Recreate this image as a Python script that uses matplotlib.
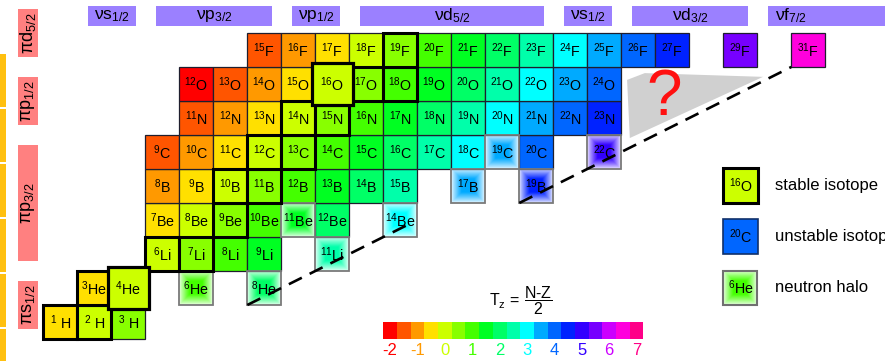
import numpy as np
import matplotlib
matplotlib.use("Agg")
import matplotlib.pyplot as plt
from matplotlib.patches import Rectangle, Polygon
from matplotlib.colors import to_rgb

plt.rcParams['font.family'] = ['Liberation Sans', 'DejaVu Sans']
plt.rcParams['mathtext.fontset'] = 'custom'
plt.rcParams['mathtext.rm'] = 'Liberation Sans'
plt.rcParams['mathtext.it'] = 'Liberation Sans:italic'
plt.rcParams['mathtext.bf'] = 'Liberation Sans:bold'

# isospin projection T_z = (N - Z)/2 and its colour scale
tz_levels = [-2, -1.5, -1, -0.5, 0, 0.5, 1, 1.5, 2, 2.5, 3, 3.5, 4, 4.5, 5, 5.5, 6, 6.5, 7]
tz_colors = ['#ff0000', '#ff5500', '#ff9900', '#ffe000', '#ccff00', '#88ff00',
             '#44ff00', '#00ff22', '#00ff66', '#00ffaa', '#00ffff', '#00aaff',
             '#0066ff', '#0022ff', '#3300ff', '#7700ff', '#cc00ff', '#ff00dd', '#ff0088']

# light nuclei: element, proton number and known mass numbers
elements = ["H", "He", "Li", "Be", "B", "C", "N", "O", "F"]
proton_numbers = [1, 2, 3, 4, 5, 6, 7, 8, 9]
mass_numbers = [
    [1, 2, 3],
    [3, 4, 6, 8],
    [6, 7, 8, 9, 11],
    [7, 8, 9, 10, 11, 12, 14],
    [8, 9, 10, 11, 12, 13, 14, 15, 17, 19],
    [9, 10, 11, 12, 13, 14, 15, 16, 17, 18, 19, 20, 22],
    [11, 12, 13, 14, 15, 16, 17, 18, 19, 20, 21, 22, 23],
    [12, 13, 14, 15, 16, 17, 18, 19, 20, 21, 22, 23, 24],
    [15, 16, 17, 18, 19, 20, 21, 22, 23, 24, 25, 26, 27, 29, 31],
]
stable = ["1H", "2H", "3He", "4He", "6Li", "7Li", "9Be", "10B", "11B", "12C",
          "13C", "14N", "15N", "16O", "17O", "18O", "19F"]
halo = ["6He", "8He", "11Li", "11Be", "14Be", "17B", "19B", "19C", "22C"]
doubly_magic = ["4He", "16O"]

# single-particle orbitals (filled neutron / proton number ranges)
neutron_shells = ["νs$_{1/2}$", "νp$_{3/2}$", "νp$_{1/2}$", "νd$_{5/2}$",
                  "νs$_{1/2}$", "νd$_{3/2}$", "νf$_{7/2}$"]
neutron_shell_range = [(1, 2), (3, 6), (7, 8), (9, 14), (15, 16), (17, 20), (21, 28)]
proton_shells = ["πs$_{1/2}$", "πp$_{3/2}$", "πp$_{1/2}$", "πd$_{5/2}$"]
proton_shell_range = [(1, 2), (3, 6), (7, 8), (9, 10)]

# last bound nuclei along the neutron-rich edge
drip_lines = [["8He", "11Li", "14Be"], ["19B", "22C", "31F"]]

legend_items = [("16O", "stable isotope", "stable"),
                ("20C", "unstable isotope", "unstable"),
                ("6He", "neutron halo", "halo")]


def tz_color(n, z):
    tz = (n - z) / 2
    return tz_colors[tz_levels.index(tz)]


def nucleus_nz(name):
    digits = ''.join(c for c in name if c.isdigit())
    sym = name[len(digits):]
    z = proton_numbers[elements.index(sym)]
    return int(digits) - z, z, int(digits), sym


def label(a, sym):
    if sym == "H":
        return r"$^{%d}$ H" % a
    return r"$^{%d}$%s" % (a, sym)


def halo_image(color, n=60):
    t = np.linspace(-1, 1, n)
    xx, yy = np.meshgrid(t, t)
    d = np.maximum(np.abs(xx), np.abs(yy))
    w = np.clip((1.0 - d) / 0.62, 0, 1) ** 0.9
    w = 0.1 + 0.9 * w
    rgb = np.array(to_rgb(color))
    return 1 - w[..., None] * (1 - rgb)


def draw_cell(ax, n, z, a, sym, kind):
    col = tz_color(n, z)
    cx, cy = n + 0.5, z + 0.5
    if kind == "halo":
        ax.imshow(halo_image(col), extent=(n, n + 1, z, z + 1), origin='lower',
                  interpolation='bilinear', aspect='auto', zorder=2)
        ax.add_patch(Rectangle((n, z), 1, 1, facecolor='none', edgecolor='#7a7a7a',
                               lw=1.3, zorder=2.5))
    elif kind == "magic":
        s = 1.22
        ax.add_patch(Rectangle((cx - s / 2, cy - s / 2), s, s, facecolor=col,
                               edgecolor='black', lw=2.3, zorder=4))
    elif kind == "stable":
        ax.add_patch(Rectangle((n, z), 1, 1, facecolor=col, edgecolor='black',
                               lw=2.2, zorder=3))
    else:
        ax.add_patch(Rectangle((n, z), 1, 1, facecolor=col, edgecolor='#1e1e2e',
                               lw=0.9, zorder=2))
    ax.text(cx, cy - 0.02, label(a, sym), ha='center', va='center', fontsize=10.3,
            color='black', zorder=6)


fig = plt.figure(figsize=(8.85, 3.61), dpi=100)
ax = fig.add_axes([0, 0, 1, 1])
ax.set_xlim(-1.274, 24.756)
ax.set_ylim(0.353, 10.97)
ax.axis('off')

# chart of nuclides
for sym, z, masses in zip(elements, proton_numbers, mass_numbers):
    for a in masses:
        name = f"{a}{sym}"
        n = a - z
        if name in doubly_magic:
            kind = "magic"
        elif name in stable:
            kind = "stable"
        elif name in halo:
            kind = "halo"
        else:
            kind = "plain"
        draw_cell(ax, n, z, a, sym, kind)

# neutron orbitals along the top
for text, (lo, hi) in zip(neutron_shells, neutron_shell_range):
    x0, x1 = lo + 0.31, hi + 1 - 0.27
    ax.add_patch(Rectangle((x0, 10.21), x1 - x0, 0.58, facecolor='#9b80ff',
                           edgecolor='none', zorder=1))
    xc = x0 + 0.68 if hi > 24 else (x0 + x1) / 2
    ax.text(xc, 10.5, text, ha='center', va='center', fontsize=12.5, zorder=2)

# proton orbitals along the left
for text, (lo, hi) in zip(proton_shells, proton_shell_range):
    y0, y1 = lo + 0.29, hi + 1 - 0.3
    ax.add_patch(Rectangle((-0.744, y0), 0.588, y1 - y0, facecolor='#ff8080',
                           edgecolor='none', zorder=1))
    ax.text(-0.45, (y0 + y1) / 2, text, ha='center', va='center', rotation=90,
            fontsize=13, zorder=2)

# strip at the far left edge
for k in range(6):
    top = 9.38 - k * 1.62
    ax.add_patch(Rectangle((-1.3, top - 1.56), 0.19, 1.56, facecolor='#ffc010',
                           edgecolor='none', zorder=1))

# unknown region beyond the drip line
ax.add_patch(Polygon([(17.17, 8.62), (17.69, 8.82), (21.17, 8.71), (17.25, 6.91)],
                     closed=True, facecolor='#d0d0d0', edgecolor='none', zorder=1))
ax.text(18.27, 8.1, "?", color='#ff1010', fontsize=46, ha='center', va='center',
        zorder=3)

# neutron drip lines through lower-left corners of the last bound nuclei
for k, chain in enumerate(drip_lines):
    pts = [nucleus_nz(nm)[:2] for nm in chain]
    xs = [p[0] for p in pts]
    ys = [p[1] for p in pts]
    if k == 0:
        xs.append(xs[-1] + 0.75)
        ys.append(ys[-1] + 0.375)
    ax.plot(xs, ys, color='black', lw=1.9, linestyle=(0, (5.5, 3.3)),
            solid_capstyle='butt', dash_capstyle='butt', zorder=7)

# legend
legend_y = [5.0, 3.5, 2.0]
for (nm, text, kind), y in zip(legend_items, legend_y):
    n, z, a, sym = nucleus_nz(nm)
    col = tz_color(n, z)
    if kind == "halo":
        ax.imshow(halo_image(col), extent=(20, 21, y, y + 1), origin='lower',
                  interpolation='bilinear', aspect='auto', zorder=2)
        ax.add_patch(Rectangle((20, y), 1, 1, facecolor='none', edgecolor='#707070',
                               lw=1.5, zorder=3))
    elif kind == "stable":
        ax.add_patch(Rectangle((20, y), 1.03, 1.03, facecolor=col, edgecolor='black',
                               lw=2.2, zorder=3))
    else:
        ax.add_patch(Rectangle((20, y), 1.03, 1.03, facecolor=col, edgecolor='#10306a',
                               lw=1.2, zorder=3))
    ax.text(20.52, y + 0.5, label(a, sym), ha='center', va='center', fontsize=10.3,
            zorder=6)
    ax.text(21.52, y + 0.52, text, ha='left', va='center', fontsize=12, zorder=6)

# isospin formula and colour scale
ax.text(14.05, 2.12, r"$\mathrm{T}_\mathrm{z}\,=\,\dfrac{\mathrm{N\text{-}Z}}{2}$",
        ha='center', va='center', fontsize=11.5, zorder=6)
w = 0.4026
for lvl, col in zip(tz_levels, tz_colors):
    x = 10.0 + (lvl - tz_levels[0]) * 2 * w
    ax.add_patch(Rectangle((x, 1.0), w, 0.5, facecolor=col, edgecolor='none', zorder=2))
    if float(lvl).is_integer():
        ax.text(x + w / 2, 0.66, str(int(lvl)), color=col, ha='center', va='center',
                fontsize=12, zorder=6)

fig.savefig("out.png", dpi=100)
